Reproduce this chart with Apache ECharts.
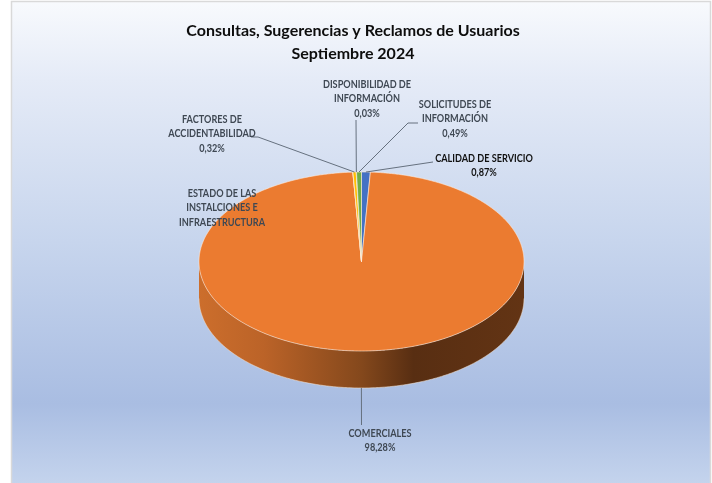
<!DOCTYPE html>
<html><head><meta charset="utf-8">
<style>html,body{margin:0;padding:0;background:#fff}#c{width:712px;height:483px}</style>
<script src="https://cdn.jsdelivr.net/npm/echarts@6/dist/echarts.min.js"></script>
</head><body><div id="c"></div>
<script>
// Data
const categories = ['CALIDAD DE SERVICIO','COMERCIALES','ESTADO DE LAS\nINSTALCIONES E\nINFRAESTRUCTURA','FACTORES DE\nACCIDENTABILIDAD','DISPONIBILIDAD DE\nINFORMACIÓN','SOLICITUDES DE\nINFORMACIÓN'];
const values = [0.87, 98.28, 0.01, 0.32, 0.03, 0.49];
const showPercent = [true, true, false, true, true, true];
const titleLines = 'Consultas, Sugerencias y Reclamos de Usuarios\nSeptiembre 2024';

// Styling and layout (separate from the data)
const sliceColors = ['#4472c4','#eb7b30','#a5a5a5','#ffc000','#5b9bd5','#70ad47'];
const labelColors = ['#111111','#3f4853','#3f4853','#3f4853','#3f4853','#3f4853'];
const labelCentres = [[484,151],[380,426],[222,186],[212,112],[367,77],[455,97]];
const elbows = [[433,162],[361.5,425],null,[258,137],[356,120],[408,123]];
const elbowEnds = [null,null,null,[251,137],null,[418,123]];
const P = {cx:361.5, cy:261.5, rx:162.5, ry:89.5, depth:37};
const FONT = 'Lato, Carlito, "Noto Sans", sans-serif';

const total = values.reduce((a,b)=>a+b,0);
const starts = []; { let s=0; for(const v of values){ starts.push(s); s+=v/total*360; } }
const pt = (deg,dy=0)=>{ const t=deg*Math.PI/180; return [P.cx+P.rx*Math.sin(t), P.cy-P.ry*Math.cos(t)+dy]; };
const arc = (a,b,dy=0)=>{ const n=Math.max(2,Math.ceil((b-a)*2)), o=[]; for(let i=0;i<=n;i++) o.push(pt(a+(b-a)*i/n,dy)); return o; };
const wallFill = {type:'linear',x:P.cx-P.rx,y:0,x2:P.cx+P.rx,y2:0,global:true,colorStops:[
  {offset:0,color:'#cc6e2c'},{offset:.2,color:'#bb6328'},{offset:.5,color:'#84481c'},{offset:.66,color:'#582e12'},{offset:1,color:'#633414'}]};

function renderSlice(params, api){
  const i = params.dataIndex, v = api.value(0);
  const a = starts[i], b = a + v/total*360, mid = (a+b)/2;
  const children = [];
  const wa = Math.max(a,90), wb = Math.min(b,270);
  if (wb > wa){
    const top = arc(wa,wb), bot = arc(wa,wb,P.depth).reverse();
    children.push({type:'polygon',z2:1,shape:{points:top.concat(bot)},style:{fill:wallFill,stroke:null}});
    children.push({type:'polyline',z2:2,shape:{points:arc(wa,wb,P.depth)},style:{fill:null,stroke:'rgba(240,225,210,.75)',lineWidth:.8}});
  }
  children.push({type:'polygon',z2:3,shape:{points:[[P.cx,P.cy]].concat(arc(a,b))},
    style:{fill:sliceColors[i],stroke:'rgba(255,236,222,.85)',lineWidth:.7}});
  // Leader line and label
  if (elbows[i]){
    const front = mid>90 && mid<270;
    const anchor = pt(mid, front?P.depth:0);
    const pts=[anchor,elbows[i]]; if(elbowEnds[i]) pts.push(elbowEnds[i]);
    children.push({type:'polyline',z2:4,shape:{points:pts},style:{fill:null,stroke:'#66717f',lineWidth:1}});
  }
  const pct = showPercent[i] ? '\n'+v.toFixed(2).replace('.',',')+'%' : '';
  children.push({type:'text',z2:5,x:labelCentres[i][0],y:labelCentres[i][1],scaleX:.87,style:{text:categories[i]+pct,x:0,y:0,
    align:'center',verticalAlign:'top',font:'700 10.5px '+FONT,lineHeight:14.6,fill:labelColors[i]}});
  return {type:'group',children};
}

const chart = echarts.init(document.getElementById('c'),null,{renderer:'canvas'});
chart.setOption({
  animation:false,
  title:{text:titleLines,left:348,top:14,textAlign:'center',
    textStyle:{fontFamily:FONT,fontWeight:700,fontSize:16,lineHeight:23.5,color:'#0d0d0d'}},
  graphic:[{type:'rect',z:-10,silent:true,shape:{x:11.5,y:1.5,width:699,height:490},
    style:{stroke:'#d9d9d9',lineWidth:1.5,fill:{type:'linear',x:0,y:0,x2:0,y2:1,colorStops:[
      {offset:0,color:'#f8fafd'},{offset:.16,color:'#e5ebf7'},{offset:.49,color:'#c7d5ed'},
      {offset:.82,color:'#a9bde2'},{offset:1,color:'#c7d6ee'}]}}}],
  series:[{type:'custom',coordinateSystem:'none',renderItem:renderSlice,
    data:values.map((v,i)=>({name:categories[i],value:[v]}))}]
});
</script></body></html>
